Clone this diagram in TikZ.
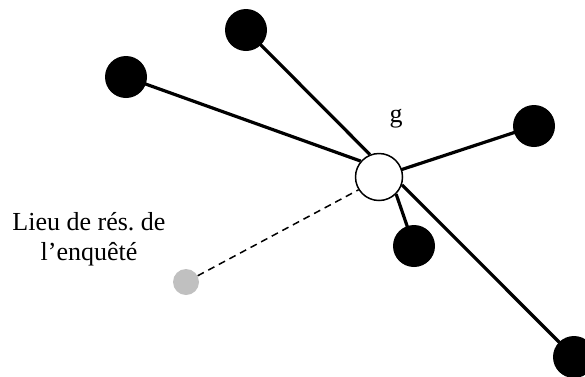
\documentclass[tikz,border=0pt]{standalone}
\usepackage{fontspec}
\setmainfont{Liberation Serif}
\usetikzlibrary{backgrounds}
\definecolor{dotgray}{RGB}{192,192,192}
\frenchspacing
\begin{document}
\begin{tikzpicture}[x=1pt,y=-1pt,
  blackdot/.style={circle,fill=black,draw=none,minimum size=42pt,inner sep=0pt},
  hubdot/.style={circle,fill=white,draw=black,line width=1.5pt,minimum size=47pt,inner sep=0pt},
  graydot/.style={circle,fill=dotgray,draw=none,minimum size=26pt,inner sep=0pt},
  link/.style={line width=3.2pt},
  dashlink/.style={line width=1.5pt,dash pattern=on 7pt off 5pt},
  lbl/.style={inner sep=0pt,font=\fontsize{26}{30}\selectfont}]
\useasboundingbox (0,0) rectangle (585,376);
\node[hubdot] (hub) at (379,177) {};
\node[blackdot] (top) at (246,30) {};
\node[blackdot] (left) at (126,77) {};
\node[blackdot] (right) at (534,126) {};
\node[blackdot] (bot) at (414,246) {};
\node[blackdot] (br) at (574,357) {};
\node[graydot] (home) at (186,282) {};
\node[lbl,anchor=base] (g) at (396,122) {g};
\node[lbl,align=center] (lieu) at (89,239) {Lieu de rés. de\\l’enquêté};
\begin{pgfonlayer}{background}
\draw[link] (top.center) -- (hub.112);
\draw[link] (left.center) -- (hub.139);
\draw[link] (right.center) -- (hub.center);
\draw[link] (bot.center) -- (hub.315);
\draw[link] (br.center) -- (hub.341);
\draw[dashlink] (home) -- (hub.212);
\end{pgfonlayer}
\end{tikzpicture}
\end{document}
